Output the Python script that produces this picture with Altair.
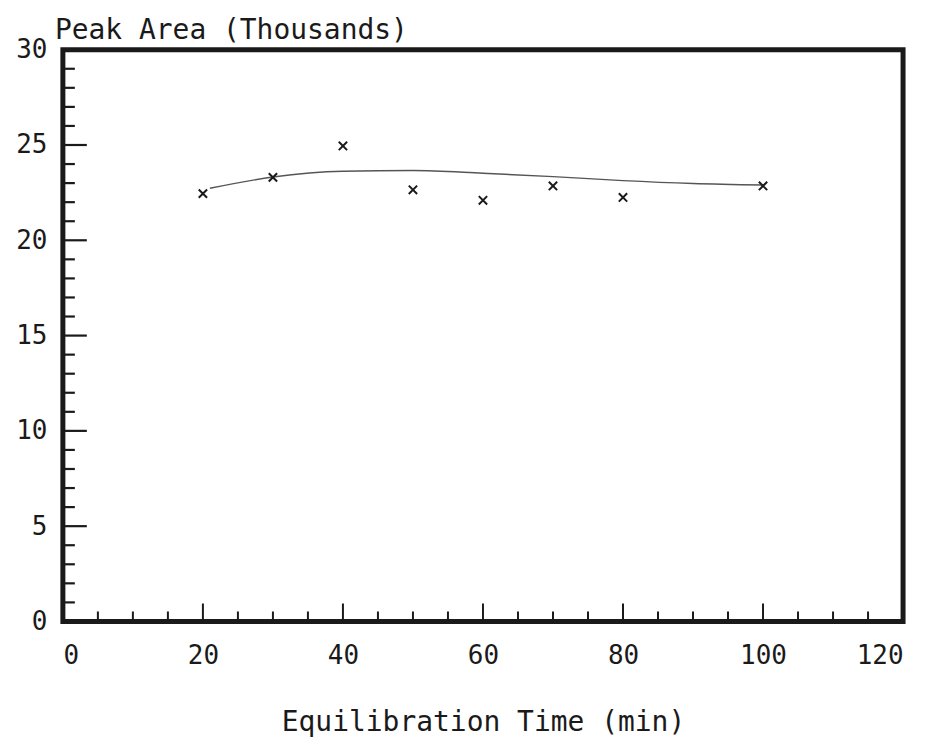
import altair as alt
import pandas as pd

# measured points
time_min = [20, 30, 40, 50, 60, 70, 80, 100]
peak_area = [22.45, 23.3, 24.95, 22.65, 22.1, 22.85, 22.25, 22.85]

# fitted curve
curve_x = [21, 30, 40, 50, 60, 70, 80, 90, 100]
curve_y = [22.73, 23.32, 23.62, 23.66, 23.52, 23.34, 23.13, 22.98, 22.9]

x_major = [20, 40, 60, 80, 100]
x_minor = [5, 10, 15, 25, 30, 35, 45, 50, 55, 65, 70, 75, 85, 90, 95, 105, 110, 115]
y_major = [5, 10, 15, 20, 25]
y_minor = [1, 2, 3, 4, 6, 7, 8, 9, 11, 12, 13, 14, 16, 17, 18, 19, 21, 22, 23, 24, 26, 27, 28, 29]

W, H = 842, 573
FONT = "DejaVu Sans Mono"
INK = "#1a1a1a"

pts = pd.DataFrame({"t": time_min, "a": peak_area})
crv = pd.DataFrame({"t": curve_x, "a": curve_y})

xs = alt.Scale(domain=[0, 120], nice=False, zero=False)
ys = alt.Scale(domain=[0, 30], nice=False, zero=False)

x_axis = alt.Axis(values=[0, 20, 40, 60, 80, 100, 120], ticks=False, domain=False, grid=False,
                  labelPadding=21, labelFontSize=26, labelFont=FONT, labelColor=INK,
                  title="Equilibration Time (min)", titleFont=FONT, titleFontSize=28,
                  titleFontWeight="normal", titlePadding=40, titleColor=INK)
y_axis = alt.Axis(values=[0, 5, 10, 15, 20, 25, 30], ticks=False, domain=False, grid=False,
                  labelPadding=16, labelFontSize=26, labelFont=FONT, labelColor=INK, title=None)

line = alt.Chart(crv).mark_line(color="#555", strokeWidth=1.4, interpolate="monotone").encode(
    x=alt.X("t:Q", scale=xs, axis=x_axis),
    y=alt.Y("a:Q", scale=ys, axis=y_axis),
)

points = alt.Chart(pts).mark_point(
    shape="M-1,-1L1,1M1,-1L-1,1", size=70, filled=False, color=INK, strokeWidth=2, opacity=1
).encode(x=alt.X("t:Q", scale=xs), y=alt.Y("a:Q", scale=ys))

def yticks(vals, length):
    return alt.Chart(pd.DataFrame({"v": vals})).mark_rule(color=INK, strokeWidth=2.2).encode(
        y=alt.Y("v:Q", scale=ys), x=alt.value(0), x2=alt.value(length))

def xticks(vals, length):
    return alt.Chart(pd.DataFrame({"v": vals})).mark_rule(color=INK, strokeWidth=2).encode(
        x=alt.X("v:Q", scale=xs), y=alt.value(H), y2=alt.value(H - length))

chart = alt.layer(
    yticks(y_minor, 12), yticks(y_major, 24), xticks(x_minor, 10), xticks(x_major, 18),
    line, points
).properties(
    width=W, height=H,
    title=alt.TitleParams("Peak Area (Thousands)", anchor="start", frame="group", dx=-8,
                          offset=0, dy=8, font=FONT, fontSize=28, fontWeight="normal", color=INK),
    autosize=alt.AutoSizeParams(type="none"),
    padding={"left": 55, "top": 41, "right": 25, "bottom": 116},
).configure_view(stroke=INK, strokeWidth=5)

chart.save("out.html", embed_options={"renderer": "svg", "actions": False})
